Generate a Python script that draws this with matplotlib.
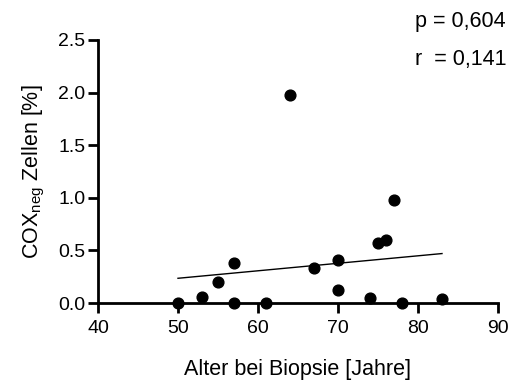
import matplotlib
matplotlib.use("Agg")
import matplotlib.pyplot as plt
import numpy as np

plt.rcParams['font.family'] = ['Liberation Sans', 'DejaVu Sans']

age = [50, 53, 55, 57, 57, 61, 64, 67, 70, 70, 74, 75, 76, 77, 78, 83]
cox_neg = [0.00, 0.06, 0.20, 0.38, 0.00, 0.00, 1.98, 0.33, 0.41, 0.12, 0.05, 0.57, 0.60, 0.98, 0.00, 0.04]
fit_x = [50, 83]
fit_y = [0.235, 0.47]
xticks = [40, 50, 60, 70, 80, 90]
yticks = [0.0, 0.5, 1.0, 1.5, 2.0, 2.5]
yticklabels = ["0.0", "0.5", "1.0", "1.5", "2.0", "2.5"]

fig = plt.figure(figsize=(5.09, 3.85), dpi=100)
ax = fig.add_axes([98/509, 1 - 303/385, 400/509, 263/385])

ax.plot(fit_x, fit_y, color='black', lw=1.0, zorder=2)
ax.scatter(age, cox_neg, s=60, color='black', zorder=3, clip_on=False)

ax.set_xlim(40, 90)
ax.set_ylim(0, 2.5)
ax.set_xticks(xticks)
ax.set_yticks(yticks)
ax.set_yticklabels(yticklabels)
for s in ['top', 'right']:
    ax.spines[s].set_visible(False)
for s in ['left', 'bottom']:
    ax.spines[s].set_linewidth(2)
ax.tick_params(direction='out', length=7, width=2, labelsize=14)
ax.tick_params(axis='x', pad=5)
ax.tick_params(axis='y', pad=2)

ax.set_xlabel("Alter bei Biopsie [Jahre]", fontsize=15.5, labelpad=16)
ax.set_ylabel(r"COX$_{\mathregular{neg}}$ Zellen [%]", fontsize=15.5, labelpad=8)

fig.text(415/509, 1 - 22/385, "p = 0,604", fontsize=15.5, va='center', ha='left')
fig.text(415/509, 1 - 60/385, "r  = 0,141", fontsize=15.5, va='center', ha='left')

fig.savefig("out.png", dpi=100)
